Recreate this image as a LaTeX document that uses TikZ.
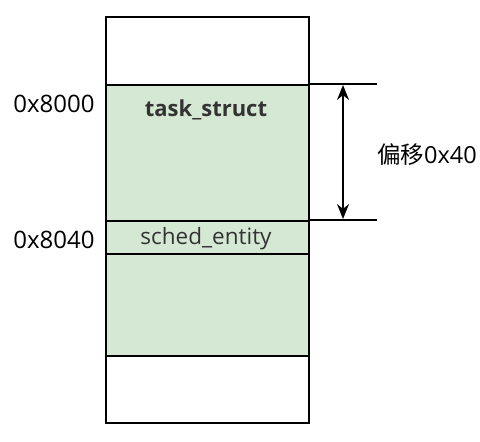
\documentclass[tikz,border=0pt]{standalone}
\usepackage{fontspec}
\setmainfont{Open Sans}
\newfontfamily\cjk{Noto Sans CJK SC}
\usetikzlibrary{arrows.meta}
\definecolor{boxgreen}{HTML}{D5E8D4}
\definecolor{txtgray}{HTML}{333333}
\tikzset{
  region/.style={draw=black, line width=1.6pt, minimum width=203pt, inner sep=0pt, anchor=north west},
  greenregion/.style={region, fill=boxgreen},
  whiteregion/.style={region, fill=white},
  addr/.style={font=\fontsize{24}{28}\selectfont, text=black, inner sep=0pt},
  field/.style={font=\fontsize{22.5}{26}\selectfont, text=txtgray, inner sep=0pt},
  guide/.style={line width=1.4pt, draw=black},
  span/.style={line width=1.4pt, {Stealth[length=15pt,width=12pt]}-{Stealth[length=15pt,width=12pt]}}
}
\begin{document}
\begin{tikzpicture}[x=1pt,y=-1pt]
\useasboundingbox (0,0) rectangle (480,442);
\node[whiteregion, minimum height=68pt] (top) at (105,16) {};
\node[greenregion, minimum height=136pt] (task) at (105,84) {};
\node[greenregion, minimum height=33pt] (sched) at (105,220) {};
\node[greenregion, minimum height=102pt] (rest) at (105,253) {};
\node[whiteregion, minimum height=67pt] (bottom) at (105,355) {};
\node[field, font=\fontsize{22}{26}\selectfont\bfseries] (tasklbl) at (206,109.5) {task\_struct};
\node[field] (schedlbl) at (206,238.5) {sched\_entity};
\node[addr] (a0) at (54,104) {0x8000};
\node[addr] (a1) at (54,240) {0x8040};
\coordinate (g1s) at (task.north east);
\coordinate (g1e) at (377,84);
\coordinate (g2s) at (sched.north east);
\coordinate (g2e) at (377,220);
\draw[guide] (g1s) -- (g1e);
\draw[guide] (g2s) -- (g2e);
\coordinate (arT) at (343,85);
\coordinate (arB) at (343,219);
\draw[span] (arT) -- (arB);
\node[addr, font=\fontsize{23.5}{28}\selectfont, anchor=west] (off) at (377,155) {{\cjk 偏移}0x40};
\end{tikzpicture}
\end{document}
